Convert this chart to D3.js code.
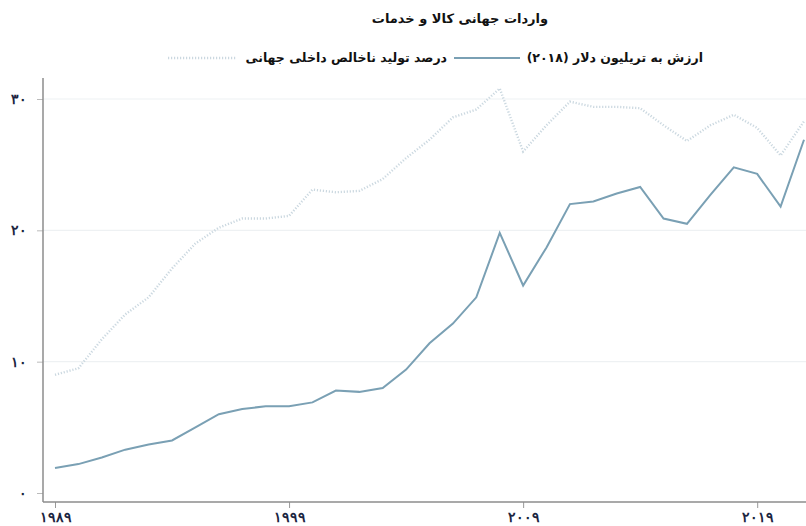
<!DOCTYPE html>
<html><head><meta charset="utf-8">
<script src="https://cdn.jsdelivr.net/npm/d3@7"></script>
<style>
html,body{margin:0;padding:0;background:#fff;}
svg{display:block;font-family:"DejaVu Sans",sans-serif;}
</style></head>
<body>
<script>
const title = "واردات جهانی کالا و خدمات";
const seriesNames = ["درصد تولید ناخالص داخلی جهانی", "ارزش به تریلیون دلار (۲۰۱۸)"];
const years = [1989,1990,1991,1992,1993,1994,1995,1996,1997,1998,1999,2000,2001,2002,2003,2004,2005,2006,2007,2008,2009,2010,2011,2012,2013,2014,2015,2016,2017,2018,2019,2020,2021];
const pctGDP = [9.0,9.5,11.7,13.6,14.9,17.1,19.0,20.2,20.9,20.9,21.1,23.1,22.9,23.0,23.9,25.5,26.9,28.6,29.2,30.8,26.0,28.0,29.8,29.4,29.4,29.3,28.0,26.8,28.0,28.8,27.8,25.7,28.3];
const trillionUSD = [1.9,2.2,2.7,3.3,3.7,4.0,5.0,6.0,6.4,6.6,6.6,6.9,7.8,7.7,8.0,9.4,11.4,12.9,14.9,19.8,15.8,18.7,22.0,22.2,22.8,23.3,20.9,20.5,22.7,24.8,24.3,21.8,26.9];
const yTicks = [0,10,20,30];
const yTickLabels = ["۰","۱۰","۲۰","۳۰"];
const xTicks = [1989,1999,2009,2019];
const xTickLabels = ["۱۹۸۹","۱۹۹۹","۲۰۰۹","۲۰۱۹"];

const W=806,H=526;
const svg=d3.select("body").append("svg").attr("width",W).attr("height",H);
const x=d3.scaleLinear().domain([1989,2021]).range([55,804]);
const y=d3.scaleLinear().domain([0,30]).range([493,99]);
const axisX=43, axisY=502;

// gridlines
svg.append("g").selectAll("line").data(yTicks.filter(d=>d>0)).join("line")
  .attr("x1",axisX).attr("x2",W).attr("y1",d=>y(d)).attr("y2",d=>y(d))
  .attr("stroke","#eef1f3").attr("stroke-width",1.2);

// y axis
const yAxis=svg.append("g").attr("transform",`translate(${axisX},0)`)
  .call(d3.axisLeft(y).tickValues(yTicks).tickSize(6).tickPadding(10).tickFormat((d,i)=>yTickLabels[i]));
yAxis.select(".domain").remove();
yAxis.append("line").attr("x1",0).attr("x2",0).attr("y1",78).attr("y2",axisY).attr("stroke","#8c8c8c").attr("stroke-width",1.5);
yAxis.selectAll(".tick line").attr("stroke","#bbb");
yAxis.selectAll(".tick text").attr("fill","#1b2440").attr("font-weight","bold").attr("font-size",14);

// x axis
const xAxis=svg.append("g").attr("transform",`translate(0,${axisY})`)
  .call(d3.axisBottom(x).tickValues(xTicks).tickSize(6).tickPadding(4).tickFormat((d,i)=>xTickLabels[i]));
xAxis.select(".domain").remove();
xAxis.append("line").attr("x1",axisX).attr("x2",W).attr("y1",0).attr("y2",0).attr("stroke","#8c8c8c").attr("stroke-width",1.5);
xAxis.selectAll(".tick line").attr("stroke","#999");
xAxis.selectAll(".tick text").attr("fill","#1b2440").attr("font-weight","bold").attr("font-size",14);

// lines
const line=d3.line().x((d,i)=>x(years[i])).y(d=>y(d));
svg.append("path").datum(pctGDP).attr("d",line).attr("fill","none")
  .attr("stroke","#cbd8e0").attr("stroke-width",2.4).attr("stroke-dasharray","1.2,1.8");
svg.append("path").datum(trillionUSD).attr("d",line).attr("fill","none")
  .attr("stroke","#7aa0b4").attr("stroke-width",2);

// title
svg.append("text").attr("x",460).attr("y",23).attr("text-anchor","middle")
  .attr("font-weight","bold").attr("font-size",13).attr("fill","#111").text(title);

// legend
svg.append("line").attr("x1",168).attr("x2",236).attr("y1",58).attr("y2",58)
  .attr("stroke","#cbd8e0").attr("stroke-width",2.4).attr("stroke-dasharray","1.2,1.8");
svg.append("text").attr("x",447).attr("y",62).attr("text-anchor","end")
  .attr("font-weight","bold").attr("font-size",12.5).attr("fill","#111").text(seriesNames[0]);
svg.append("line").attr("x1",454).attr("x2",520).attr("y1",58).attr("y2",58)
  .attr("stroke","#7aa0b4").attr("stroke-width",2);
svg.append("text").attr("x",703).attr("y",62).attr("text-anchor","end")
  .attr("font-weight","bold").attr("font-size",12.5).attr("fill","#111").text(seriesNames[1]);
</script>
</body></html>
